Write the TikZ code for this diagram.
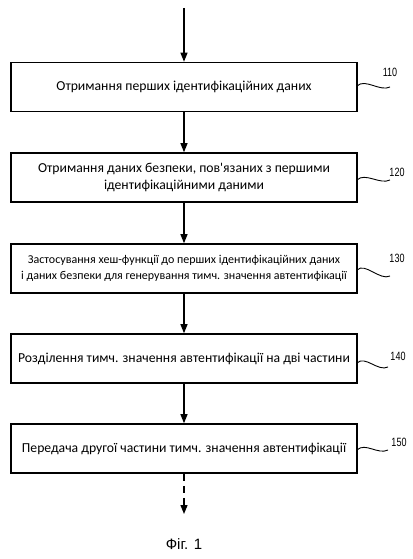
\documentclass[tikz,border=0pt]{standalone}
\usepackage{fontspec}
\setmainfont{Carlito}
\newfontfamily\labelfont[FakeStretch=0.75]{Liberation Sans}
\newfontfamily\figfont{Liberation Sans}
\usetikzlibrary{arrows.meta, positioning}

\begin{document}
\begin{tikzpicture}[x=1pt, y=-1pt,
		stepbox/.style={draw, line width=1.6pt, minimum width=346pt, minimum height=49pt, align=center, inner sep=2pt, font=\fontsize{13.7}{16.5}\selectfont},
		flow/.style={line width=1.2pt, -{Triangle[length=9pt, width=7pt]}},
		wave/.style={line width=0.9pt},
		refnum/.style={font=\labelfont\fontsize{12}{14}\selectfont}]
				\useasboundingbox (0, 0) rectangle (412, 559);

				\coordinate (Start) at (184, 8);

				\node (Receive) [stepbox] at (184, 87) {Отримання перших ідентифікаційних даних};
				\draw [flow] (Start) -- (Receive);

				\node (Security) [stepbox] at (184, 177.5) {Отримання даних безпеки, пов\textquotesingle язаних з першими\\ідентифікаційними даними};
				\draw [flow] (Receive) -- (Security);

				\node (Hash) [stepbox, font=\fontsize{12}{16}\selectfont] at (184, 268.5) {Застосування хеш-функції до перших ідентифікаційних даних\\і даних безпеки для генерування тимч. значення автентифікації};
				\draw [flow] (Security) -- (Hash);

				\node (Split) [stepbox] at (184, 358.5) {Розділення тимч. значення автентифікації на дві частини};
				\draw [flow] (Hash) -- (Split);

				\node (Send) [stepbox] at (184, 448.5) {Передача другої частини тимч. значення автентифікації};
				\draw [flow] (Split) -- (Send);

				\coordinate (End) at (184, 514);
				\draw [flow, dash pattern=on 7pt off 5pt] (Send) -- (End);

				% reference numerals
				\coordinate (W110) at (390, 87);
				\draw [wave] (357, 86) .. controls +(8, -8) and +(-10, 5) .. (W110);
				\node (N110) [refnum] at (390, 72) {110};

				\coordinate (W120) at (390, 180);
				\draw [wave] (357, 180) .. controls +(8, -8) and +(-10, 5) .. (W120);
				\node (N120) [refnum] at (397, 172) {120};

				\coordinate (W130) at (390, 276);
				\draw [wave] (357, 270) .. controls +(8, -8) and +(-10, 5) .. (W130);
				\node (N130) [refnum] at (397, 258) {130};

				\coordinate (W140) at (388, 367);
				\draw [wave] (357, 363) .. controls +(8, -8) and +(-10, 5) .. (W140);
				\node (N140) [refnum] at (398, 356) {140};

				\coordinate (W150) at (388, 450);
				\draw [wave] (357, 450) .. controls +(8, -8) and +(-10, 5) .. (W150);
				\node (N150) [refnum] at (399, 442) {150};

				\node (Fig) [font=\figfont\fontsize{15}{18}\selectfont] at (184, 544.5) {Фіг. 1};
			\end{tikzpicture}
\end{document}
